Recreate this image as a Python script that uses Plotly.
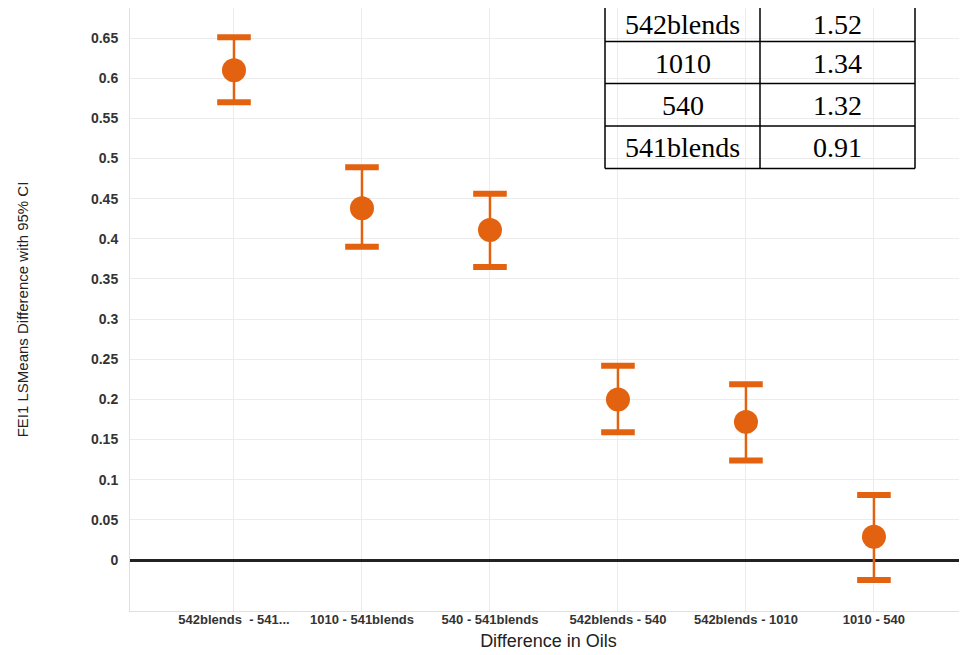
import plotly.graph_objects as go

# ---- data ----
comparisons = ["542blends  - 541...", "1010 - 541blends", "540 - 541blends",
               "542blends - 540", "542blends - 1010", "1010 - 540"]
lsmean_diff = [0.610, 0.438, 0.411, 0.200, 0.172, 0.029]
ci_upper = [0.651, 0.489, 0.456, 0.242, 0.219, 0.081]
ci_lower = [0.570, 0.390, 0.365, 0.159, 0.124, -0.025]

y_ticks = [0, 0.05, 0.1, 0.15, 0.2, 0.25, 0.3, 0.35, 0.4, 0.45, 0.5, 0.55, 0.6, 0.65]
y_tick_text = ["0", "0.05", "0.1", "0.15", "0.2", "0.25", "0.3", "0.35", "0.4",
               "0.45", "0.5", "0.55", "0.6", "0.65"]

table_oils = ["542blends", "1010", "540", "541blends"]
table_means = ["1.52", "1.34", "1.32", "0.91"]

# ---- layout constants (page pixels; figure sits at an 8px body offset) ----
OFF = 8
W, H = 967 - OFF, 655 - OFF
PLOT_L, PLOT_T, PLOT_B = 130, OFF, 611        # page coords
ML, MR, MT, MB = PLOT_L - OFF, 0, PLOT_T - OFF, (655 - PLOT_B)
PW, PH = W - ML - MR, H - MT - MB
ORANGE = "#e2620f"


def px_x(x):
    return (x - PLOT_L) / PW


def px_y(y):
    return (PLOT_B - y) / PH


err_plus = [u - m for u, m in zip(ci_upper, lsmean_diff)]
err_minus = [m - l for m, l in zip(lsmean_diff, ci_lower)]

fig = go.Figure()
fig.add_trace(go.Scatter(
    x=comparisons, y=lsmean_diff, mode="markers",
    marker=dict(size=24, color=ORANGE),
    error_y=dict(type="data", array=err_plus, arrayminus=err_minus,
                 color=ORANGE, thickness=2.5, width=0),
    showlegend=False, hoverinfo="x+y",
))
# caps
fig.add_trace(go.Scatter(
    x=comparisons + comparisons, y=ci_upper + ci_lower, mode="markers",
    marker=dict(symbol="line-ew", size=24, line=dict(color=ORANGE, width=6)),
    showlegend=False, hoverinfo="skip",
))

# ---- table overlay ----
shapes = []
tx = [605, 760, 915]
ty = [-3, 41.5, 83.5, 126, 168.5]
for x in tx:
    shapes.append(dict(type="line", xref="paper", yref="paper",
                       x0=px_x(x), x1=px_x(x), y0=px_y(ty[0]), y1=px_y(ty[-1]),
                       line=dict(color="black", width=1.5)))
for y in ty[1:]:
    shapes.append(dict(type="line", xref="paper", yref="paper",
                       x0=px_x(tx[0]), x1=px_x(tx[-1]), y0=px_y(y), y1=px_y(y),
                       line=dict(color="black", width=1.5)))

annotations = []
for i, (oil, val) in enumerate(zip(table_oils, table_means)):
    if i == 0:
        yv, ya = px_y(OFF), "top"
    else:
        yv, ya = px_y((ty[i] + ty[i + 1]) / 2 + 0.5), "middle"
    for text, xc in ((oil, (tx[0] + tx[1]) / 2), (val, (tx[1] + tx[2]) / 2)):
        annotations.append(dict(text=text, xref="paper", yref="paper",
                                x=px_x(xc), y=yv, borderpad=0,
                                xanchor="center", yanchor=ya, showarrow=False,
                                font=dict(family="Liberation Serif", size=28, color="black")))

fig.update_layout(
    width=W, height=H,
    margin=dict(l=ML, r=MR, t=MT, b=MB, autoexpand=False),
    paper_bgcolor="white", plot_bgcolor="white",
    shapes=shapes, annotations=annotations,
    xaxis=dict(
        type="category", range=[-0.8125, 5.727],
        showgrid=True, gridcolor="#ececec", gridwidth=1,
        showline=True, linecolor="#e0e0e0", linewidth=1,
        ticks="", ticklabelstandoff=-4,
        tickfont=dict(family="Liberation Sans", size=13, color="#333333", weight="bold"),
        title=dict(text="Difference in Oils", standoff=8,
                   font=dict(family="Liberation Sans", size=18, color="#222222")),
    ),
    yaxis=dict(
        range=[-(PLOT_B - 560) / 803, (560 - PLOT_T) / 803],
        tickvals=y_ticks, ticktext=y_tick_text,
        showgrid=True, gridcolor="#ececec", gridwidth=1,
        showline=True, linecolor="#e0e0e0", linewidth=1,
        zeroline=True, zerolinecolor="#222222", zerolinewidth=2.5,
        ticks="", ticklabelstandoff=8,
        tickfont=dict(family="Liberation Sans", size=14, color="#333333", weight="bold"),
        title=dict(text="FEI1 LSMeans Difference with 95% CI", standoff=58,
                   font=dict(family="Liberation Sans", size=15, color="#222222")),
    ),
)

fig.write_html("out.html")
